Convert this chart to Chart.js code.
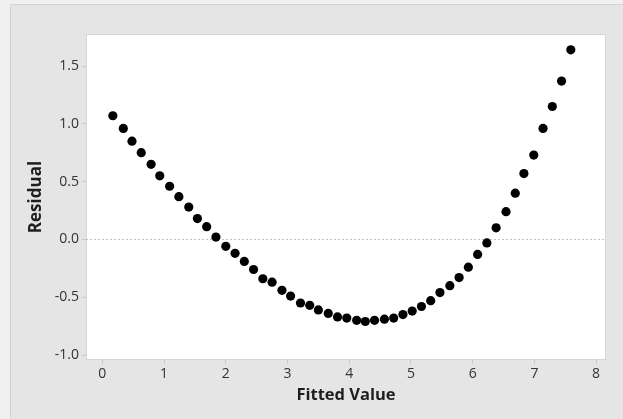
<!DOCTYPE html>
<html>
<head>
<meta charset="utf-8">
<script src="https://cdn.jsdelivr.net/npm/chart.js@4"></script>
<style>
  html, body { margin: 0; padding: 0; background: #efefef; }
  #wrap { width: 623px; height: 419px; position: relative; }
</style>
</head>
<body>
<div id="wrap"><canvas id="chart"></canvas></div>
<script>
// fitted values and residuals
const fitted = [
  0.17, 0.34, 0.48, 0.63, 0.79, 0.93, 1.09, 1.24, 1.40, 1.54,
  1.69, 1.84, 2.00, 2.15, 2.30, 2.45, 2.60, 2.75, 2.91, 3.05,
  3.21, 3.36, 3.50, 3.66, 3.81, 3.96, 4.12, 4.26, 4.41, 4.57,
  4.72, 4.87, 5.02, 5.17, 5.32, 5.47, 5.63, 5.78, 5.93, 6.08,
  6.23, 6.38, 6.54, 6.69, 6.83, 6.99, 7.14, 7.29, 7.44, 7.59
];
const residual = [
  1.07, 0.96, 0.85, 0.75, 0.65, 0.55, 0.46, 0.37, 0.28, 0.18,
  0.11, 0.02, -0.06, -0.12, -0.19, -0.26, -0.34, -0.37, -0.44, -0.49,
  -0.55, -0.57, -0.61, -0.64, -0.67, -0.68, -0.70, -0.71, -0.70, -0.69,
  -0.68, -0.65, -0.62, -0.58, -0.53, -0.46, -0.40, -0.33, -0.24, -0.13,
  -0.03, 0.10, 0.24, 0.40, 0.57, 0.73, 0.96, 1.15, 1.37, 1.64
];
const xTicks = [0, 1, 2, 3, 4, 5, 6, 7, 8];
const yTicks = [-1.0, -0.5, 0.0, 0.5, 1.0, 1.5];

const points = fitted.map((x, i) => ({ x, y: residual[i] }));

// grey panel, white plot area, dotted zero reference line
const frame = {
  id: 'frame',
  beforeDraw(chart) {
    const { ctx, chartArea: a, width, height } = chart;
    ctx.save();
    ctx.fillStyle = '#f0f0f0';
    ctx.fillRect(0, 0, width, height);
    ctx.fillStyle = '#e5e5e5';
    ctx.fillRect(10, 4, width - 10, height - 4);
    ctx.strokeStyle = '#d2d2d2';
    ctx.lineWidth = 1;
    ctx.beginPath();
    ctx.moveTo(10.5, height);
    ctx.lineTo(10.5, 4.5);
    ctx.lineTo(width, 4.5);
    ctx.stroke();
    ctx.fillStyle = '#ffffff';
    ctx.fillRect(a.left, a.top, a.right - a.left, a.bottom - a.top);
    ctx.strokeStyle = '#d6d6d6';
    ctx.strokeRect(a.left + 0.5, a.top + 0.5, a.right - a.left - 1, a.bottom - a.top - 1);
    ctx.restore();
  },
  beforeDatasetsDraw(chart) {
    const { ctx, chartArea: a, scales } = chart;
    const y0 = Math.round(scales.y.getPixelForValue(0)) + 0.5;
    ctx.save();
    ctx.strokeStyle = '#c4c4c4';
    ctx.lineWidth = 1;
    ctx.setLineDash([2, 2]);
    ctx.beginPath();
    ctx.moveTo(a.left, y0);
    ctx.lineTo(a.right, y0);
    ctx.stroke();
    ctx.restore();
  }
};

const font = "'Open Sans', 'DejaVu Sans', sans-serif";
Chart.defaults.font.family = font;
Chart.defaults.color = '#333';

new Chart(document.getElementById('chart'), {
  type: 'scatter',
  data: {
    datasets: [{
      data: points,
      backgroundColor: '#000000',
      borderWidth: 0,
      pointRadius: 4.6,
      pointHoverRadius: 4.6
    }]
  },
  options: {
    responsive: true,
    maintainAspectRatio: false,
    animation: false,
    layout: { padding: { left: 0, top: 34, right: 17, bottom: 0 } },
    plugins: { legend: { display: false }, tooltip: { enabled: false } },
    scales: {
      x: {
        type: 'linear',
        min: -0.265,
        max: 8.16,
        afterFit: s => { s.height = 59; },
        afterBuildTicks: s => { s.ticks = xTicks.map(v => ({ value: v })); },
        grid: { drawOnChartArea: false, tickLength: 4, tickColor: '#c8c8c8' },
        border: { display: false },
        ticks: { padding: 2, font: { size: 14 }, color: '#333', callback: v => String(v) },
        title: {
          display: true, text: 'Fitted Value', color: '#1e1e1e',
          font: { size: 16.5, weight: 'bold' }, padding: { top: 0, bottom: 14 }
        }
      },
      y: {
        type: 'linear',
        min: -1.043,
        max: 1.777,
        afterFit: s => { s.width = 86; },
        afterBuildTicks: s => { s.ticks = yTicks.map(v => ({ value: v })); },
        grid: { drawOnChartArea: false, tickLength: 4, tickColor: '#c8c8c8' },
        border: { display: false },
        ticks: { padding: 3, font: { size: 14 }, color: '#333', callback: v => v.toFixed(1) },
        title: {
          display: true, text: 'Residual', color: '#1e1e1e',
          font: { size: 17, weight: 'bold' }, padding: { top: 26, bottom: 0 }
        }
      }
    }
  },
  plugins: [frame]
});
</script>
</body>
</html>
